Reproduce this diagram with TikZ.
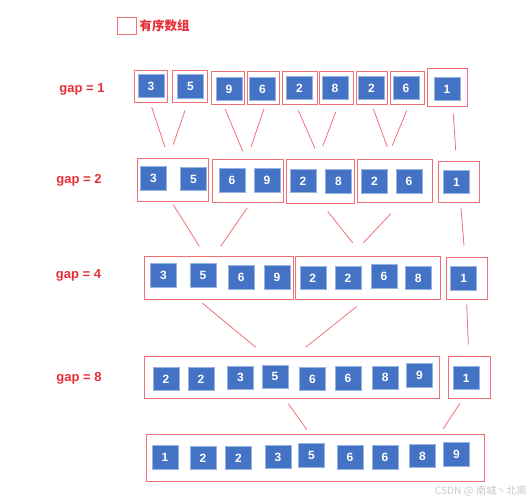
\documentclass[tikz,border=0pt]{standalone}
\usepackage{fontspec}
\setmainfont{Liberation Sans}
\newfontfamily\cjk{Noto Sans CJK SC}
\definecolor{labelred}{RGB}{232,45,55}
\definecolor{boxred}{RGB}{240,112,118}
\definecolor{sqblue}{RGB}{68,114,196}
\definecolor{sqedge}{RGB}{150,178,224}
\definecolor{wmgray}{RGB}{200,200,200}
\tikzset{
  sq/.style={fill=sqblue, draw=sqedge, line width=0.6pt, minimum width=26pt, minimum height=23.5pt,
    inner sep=0pt, text=white, font=\bfseries\fontsize{12}{12}\selectfont},
  grp/.style={draw=boxred, line width=0.9pt, inner sep=0pt},
  link/.style={draw=boxred, line width=0.8pt},
  gaplabel/.style={text=labelred, font=\bfseries\fontsize{13}{13}\selectfont, inner sep=0pt}
}
\begin{document}
\begin{tikzpicture}[x=1pt,y=-1pt]
\useasboundingbox (0,0) rectangle (528,500);

% legend
\node[grp, minimum width=18.7pt, minimum height=16.7pt] (leg) at (126.7,25.7) {};
\node[anchor=west, inner sep=0pt, text=labelred, font=\cjk\bfseries\fontsize{12.5}{12.5}\selectfont] (legt) at (139.5,25.7) {有序数组};

% gap labels
\node[gaplabel] (l1) at (82,89.5) {gap = 1};
\node[gaplabel] (l2) at (79,180.5) {gap = 2};
\node[gaplabel] (l4) at (78.5,275.5) {gap = 4};
\node[gaplabel] (l8) at (79,378.5) {gap = 8};

% row 1 groups
\node[grp, minimum width=33pt, minimum height=32pt] (b1) at (150.5,86) {};
\node[grp, minimum width=35pt, minimum height=32pt] (b2) at (189.5,86) {};
\node[grp, minimum width=33pt, minimum height=33pt] (b3) at (227.5,87.5) {};
\node[grp, minimum width=32pt, minimum height=33pt] (b4) at (263,87.5) {};
\node[grp, minimum width=35pt, minimum height=33pt] (b5) at (299.5,87.5) {};
\node[grp, minimum width=34pt, minimum height=33pt] (b6) at (336,87.5) {};
\node[grp, minimum width=31pt, minimum height=33pt] (b7) at (371.5,87.5) {};
\node[grp, minimum width=34pt, minimum height=33pt] (b8) at (407,87.5) {};
\node[grp, minimum width=40pt, minimum height=38pt] (b9) at (447,87) {};
\foreach \n/\x/\y/\v in {1/151/86/3, 2/190.5/86.5/5, 3/229/89/9, 4/262.5/89/6, 5/299.5/88/2,
  6/335/88/8, 7/371.5/88/2, 8/406/88/6, 9/447/89/1}
  \node[sq] (a\n) at (\x,\y) {\v};

% row 2 groups
\node[grp, minimum width=71pt, minimum height=43pt] (g1) at (172.5,179.5) {};
\node[grp, minimum width=71pt, minimum height=43pt] (g2) at (247.5,180.5) {};
\node[grp, minimum width=68pt, minimum height=44pt] (g3) at (320,181) {};
\node[grp, minimum width=75pt, minimum height=43pt] (g4) at (394.5,180.5) {};
\node[grp, minimum width=41pt, minimum height=41pt] (g5) at (458.5,181.5) {};
\foreach \n/\x/\y/\v in {1/153.5/178.5/3, 2/193.5/179/5, 3/232/180.5/6, 4/267/180.5/9, 5/303/181/2,
  6/338.5/181.5/8, 7/374.5/181.5/2, 8/409/181.5/6, 9/456.5/182/1}
  \node[sq] (c\n) at (\x,\y) {\v};

% row 3 groups
\node[grp, minimum width=149pt, minimum height=42.5pt] (h1) at (218.5,277.75) {};
\node[grp, minimum width=145pt, minimum height=42.5pt] (h2) at (367.5,277.75) {};
\node[grp, minimum width=41pt, minimum height=42pt] (h3) at (466.5,278) {};
\foreach \n/\x/\y/\v in {1/163.5/275.3/3, 2/203/275.5/5, 3/241.3/277.5/6, 4/277/277.5/9, 5/312.8/278/2,
  6/348/278/2, 7/384/276.5/6, 8/418.3/278/8, 9/463.7/278.5/1}
  \node[sq] (d\n) at (\x,\y) {\v};

% row 4 groups
\node[grp, minimum width=295pt, minimum height=42pt] (k1) at (291.5,377) {};
\node[grp, minimum width=42pt, minimum height=42pt] (k2) at (469,377) {};
\foreach \n/\x/\y/\v in {1/166/379/2, 2/201/379/2, 3/240.5/377.7/3, 4/275/376.7/5, 5/312.5/379/6,
  6/348/378.5/6, 7/385.3/377.7/8, 8/419.5/375.3/9, 9/466.3/378/1}
  \node[sq] (e\n) at (\x,\y) {\v};

% row 5 group
\node[grp, minimum width=338pt, minimum height=47pt] (r) at (315,457.5) {};
\foreach \n/\x/\y/\v in {1/165/457.5/1, 2/203/458/2, 3/238.5/458/2, 4/278/457/3, 5/311.5/455.5/5,
  6/350/457.5/6, 7/385/457.5/6, 8/422.5/456/8, 9/456.5/454.5/9}
  \node[sq] (f\n) at (\x,\y) {\v};

% connectors row 1 -> row 2
\draw[link] ([xshift=1.2pt,yshift=-4.7pt]b1.south) -- ([xshift=-7.5pt,yshift=10.3pt]g1.north);
\draw[link] ([xshift=-4.5pt,yshift=-8pt]b2.south) -- ([xshift=0.8pt,yshift=13pt]g1.north);
\draw[link] ([xshift=-2.5pt,yshift=-4.3pt]b3.south) -- ([xshift=-4.8pt,yshift=7.3pt]g2.north);
\draw[link] ([xshift=1pt,yshift=-4.3pt]b4.south) -- ([xshift=3.5pt,yshift=11.7pt]g2.north);
\draw[link] ([xshift=-1.2pt,yshift=-6pt]b5.south) -- ([xshift=-5pt,yshift=10pt]g3.north);
\draw[link] ([xshift=-0.3pt,yshift=-7.7pt]b6.south) -- ([xshift=2.7pt,yshift=12.3pt]g3.north);
\draw[link] ([xshift=1.8pt,yshift=-4.3pt]b7.south) -- ([xshift=-7.2pt,yshift=11.7pt]g4.north);
\draw[link] ([xshift=-0.3pt,yshift=-6pt]b8.south) -- ([xshift=-2.2pt,yshift=13pt]g4.north);
\draw[link] ([xshift=6.3pt,yshift=-7.3pt]b9.south) -- ([xshift=-2.8pt,yshift=10pt]g5.north);

% connectors row 2 -> row 3
\draw[link] ([xshift=0.8pt,yshift=-3.3pt]g1.south) -- ([xshift=-19.2pt,yshift=9.8pt]h1.north);
\draw[link] ([xshift=-0.2pt,yshift=-5.3pt]g2.south) -- ([xshift=2.2pt,yshift=9.8pt]h1.north);
\draw[link] ([xshift=7.7pt,yshift=-8pt]g3.south) -- ([xshift=-14.8pt,yshift=13.2pt]h2.north);
\draw[link] ([xshift=-3.8pt,yshift=-11.3pt]g4.south) -- ([xshift=-4.2pt,yshift=13.2pt]h2.north);
\draw[link] ([xshift=2.5pt,yshift=-5.7pt]g5.south) -- ([xshift=-2.5pt,yshift=11pt]h3.north);

% connectors row 3 -> row 4
\draw[link] ([xshift=-16.2pt,yshift=-3.7pt]h1.south) -- ([xshift=-35.8pt,yshift=8.3pt]k1.north);
\draw[link] ([xshift=-10.8pt,yshift=-7pt]h2.south) -- ([xshift=14.2pt,yshift=8.3pt]k1.north);
\draw[link] ([xshift=0.2pt,yshift=-5pt]h3.south) -- ([xshift=-0.7pt,yshift=11pt]k2.north);

% connectors row 4 -> row 5
\draw[link] ([xshift=-3.2pt,yshift=-5.3pt]k1.south) -- ([xshift=-8.3pt,yshift=4pt]r.north);
\draw[link] ([xshift=-9pt,yshift=-4.7pt]k2.south) -- ([xshift=-41.3pt,yshift=4.7pt]r.north east);

% watermark
\node[anchor=east, inner sep=0pt, text=wmgray, font=\cjk\fontsize{10.2}{10.2}\selectfont] (wm) at (527,491) {CSDN @ 南城丶北离};
\end{tikzpicture}
\end{document}
